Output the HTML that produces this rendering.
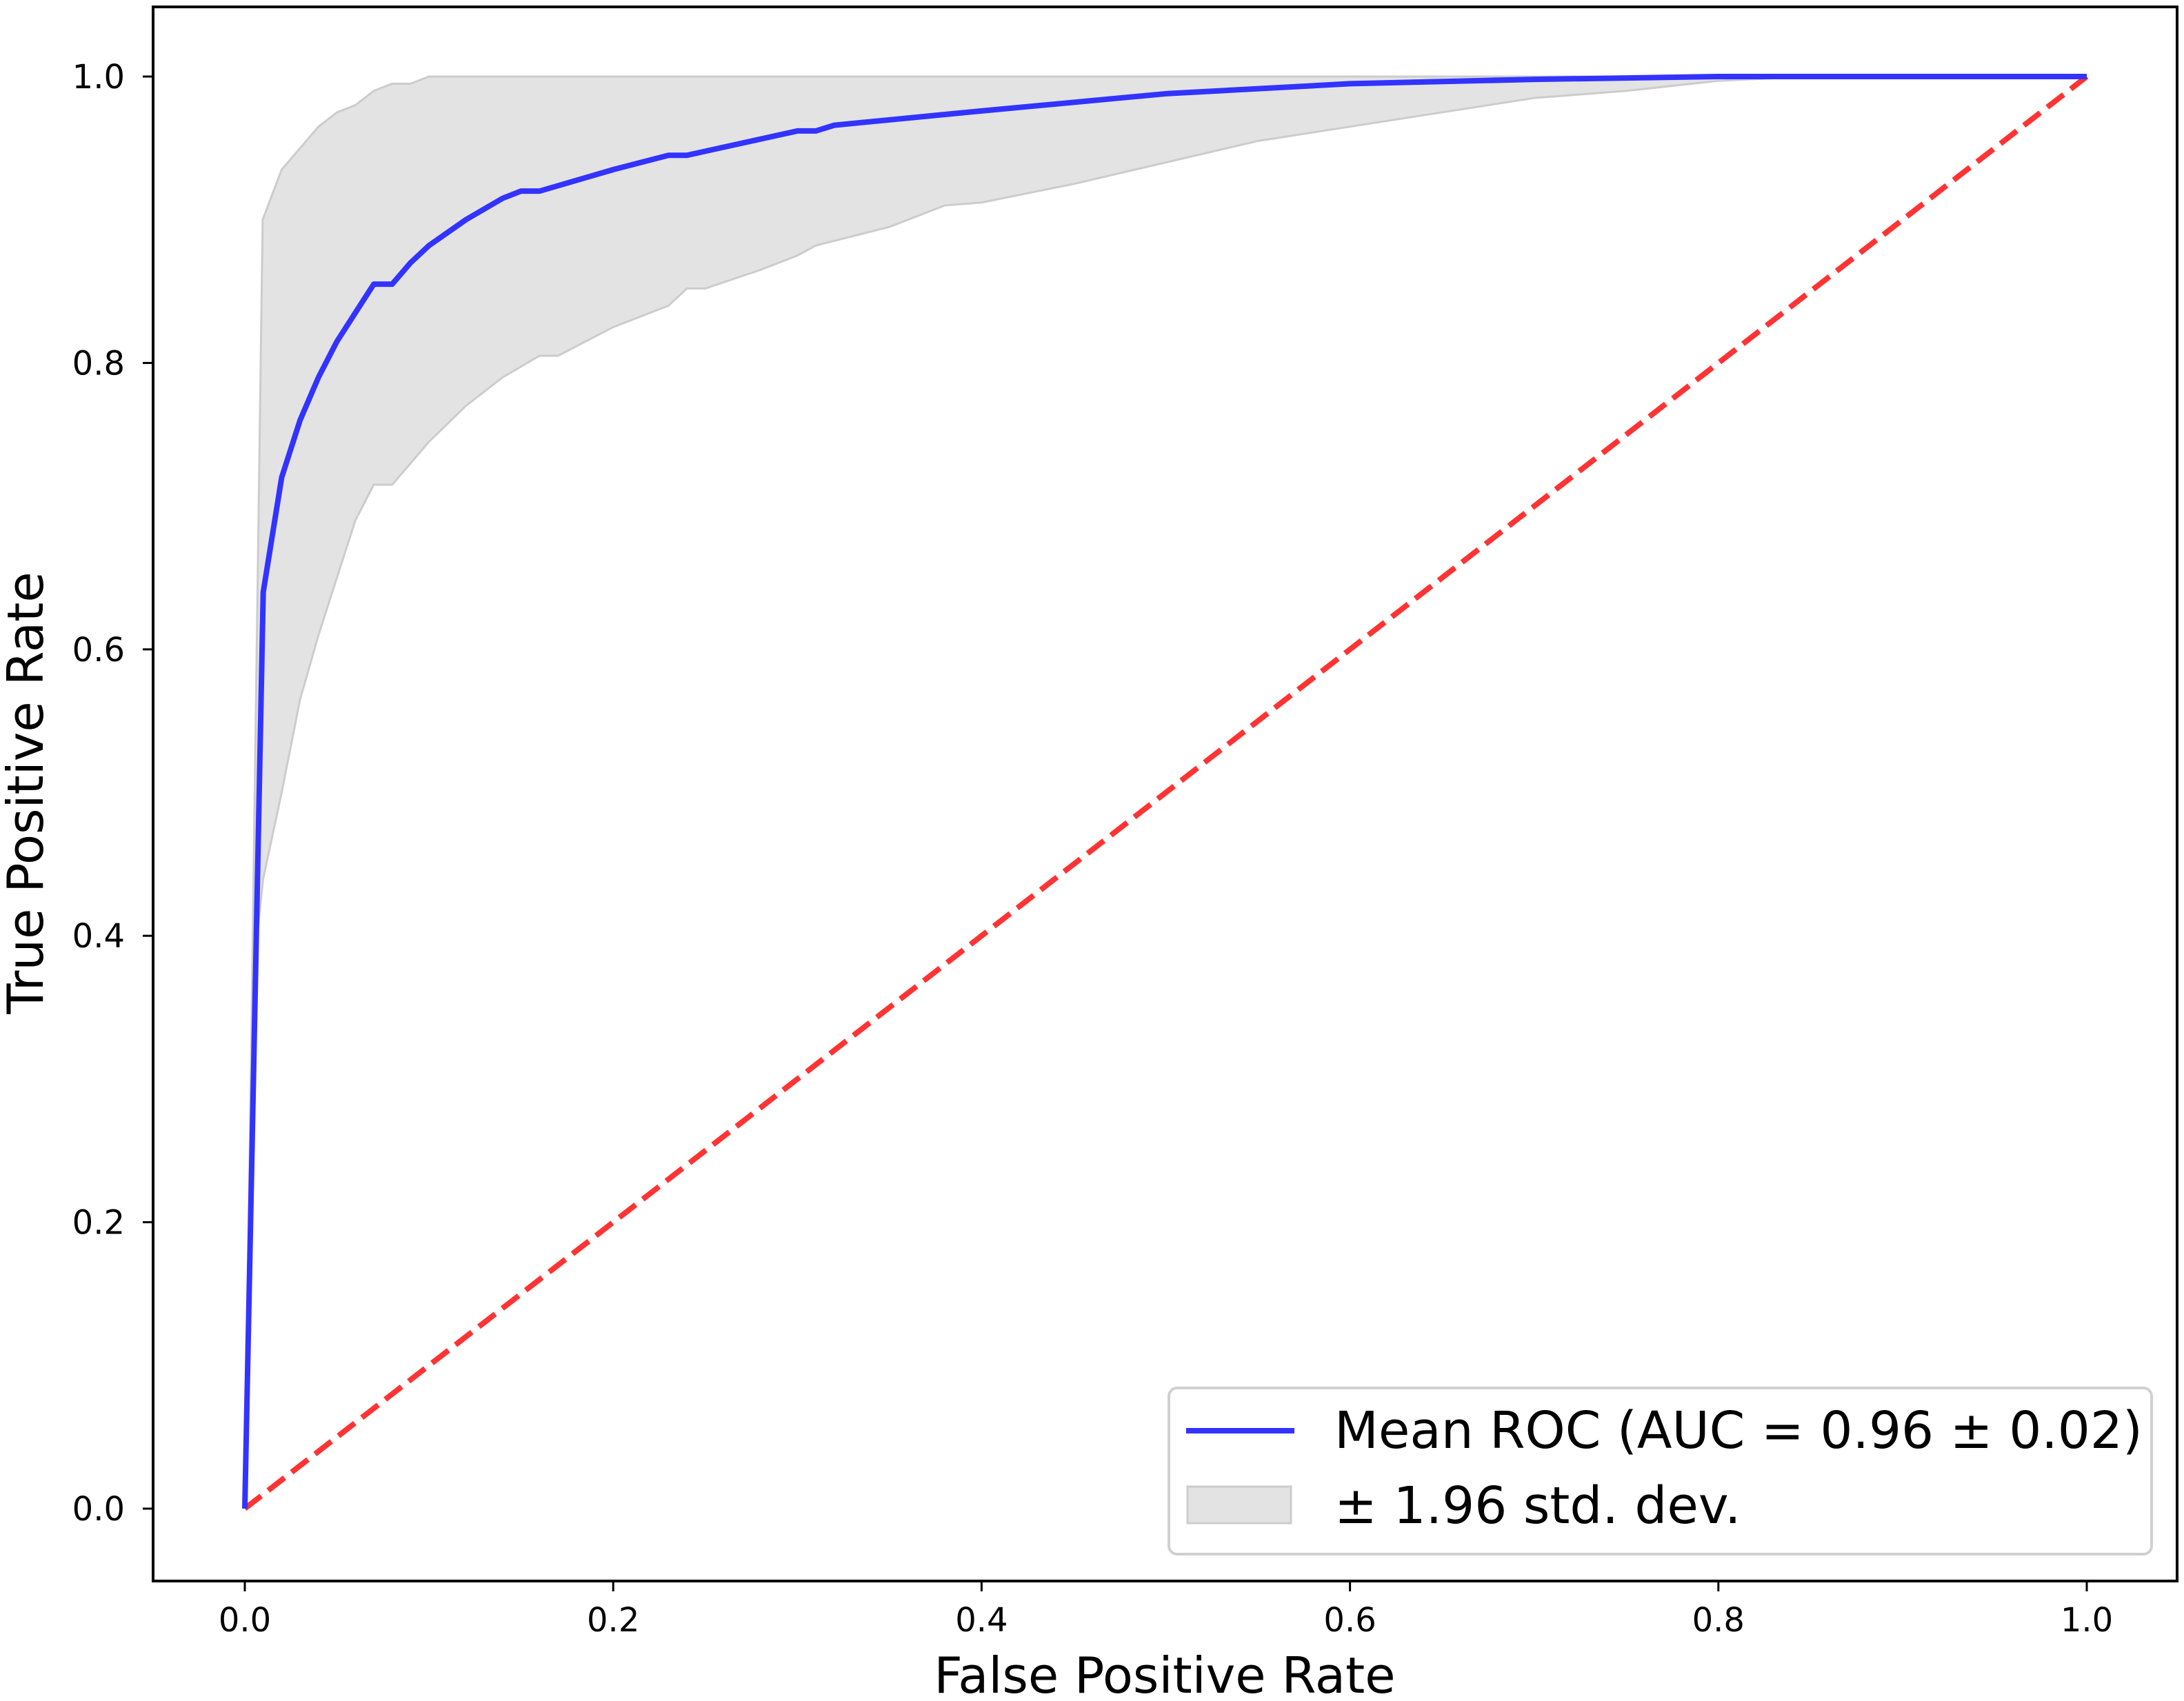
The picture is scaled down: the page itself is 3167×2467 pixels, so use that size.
<!DOCTYPE html>
<html><head><meta charset="utf-8"><style>
html,body{margin:0;padding:0;background:#fff;}
svg{display:block;font-family:"DejaVu Sans","Liberation Sans",sans-serif;}
</style></head><body>
<svg id="chart" width="3167" height="2467" viewBox="0 0 3167 2467" xmlns="http://www.w3.org/2000/svg">
<rect x="0" y="0" width="3167" height="2467" fill="#fff"/>
<g id="plot"></g>
<rect x="222" y="10" width="2935" height="2283" fill="none" stroke="#000" stroke-width="4"/>
<g id="axes"></g>
<text x="1689" y="2455" font-size="72" text-anchor="middle">False Positive Rate</text>
<text transform="translate(62,1150) rotate(-90)" font-size="72" text-anchor="middle">True Positive Rate</text>
<g>
<rect x="1695" y="2013" width="1425" height="241" rx="12" fill="#fff" fill-opacity="0.85" stroke="#d0d0d0" stroke-width="4"/>
<line x1="1720" y1="2075" x2="1877" y2="2075" stroke="#3333ff" stroke-width="8"/>
<text x="1935" y="2100" font-size="74">Mean ROC (AUC = 0.96 ± 0.02)</text>
<rect x="1722" y="2156" width="150" height="53" fill="#e3e3e3" stroke="#cccccc" stroke-width="3"/>
<text x="1935" y="2209" font-size="74">± 1.96 std. dev.</text>
</g>
</svg>
<script>
const meanFpr=[0,0.01,0.02,0.03,0.04,0.05,0.06,0.07,0.08,0.09,0.10,0.12,0.14,0.15,0.16,0.20,0.23,0.24,0.30,0.31,0.32,0.40,0.50,0.60,0.70,0.80,1.0];
const meanTpr=[0,0.64,0.72,0.76,0.79,0.815,0.835,0.855,0.855,0.87,0.882,0.90,0.915,0.92,0.92,0.935,0.945,0.945,0.962,0.962,0.966,0.976,0.988,0.995,0.998,1.0,1.0];
const upperFpr=[0,0.0097,0.02,0.03,0.04,0.05,0.06,0.07,0.08,0.09,0.10,1.0];
const upperTpr=[0,0.90,0.935,0.95,0.965,0.975,0.98,0.99,0.995,0.995,1.0,1.0];
const lowerFpr=[0,0.005,0.01,0.02,0.03,0.04,0.05,0.06,0.07,0.08,0.10,0.12,0.14,0.16,0.17,0.20,0.23,0.24,0.25,0.28,0.30,0.31,0.35,0.38,0.40,0.45,0.50,0.55,0.60,0.65,0.70,0.75,0.80,0.85,1.0];
const lowerTpr=[0,0.38,0.44,0.50,0.565,0.61,0.65,0.69,0.715,0.715,0.745,0.77,0.79,0.805,0.805,0.825,0.84,0.852,0.852,0.865,0.875,0.882,0.895,0.91,0.912,0.925,0.94,0.955,0.965,0.975,0.985,0.99,0.997,1.0,1.0];
const chanceX=[0,1];
const chanceY=[0,1];
const xTicks=[0,0.2,0.4,0.6,0.8,1.0];
const yTicks=[0,0.2,0.4,0.6,0.8,1.0];
const xTickLabels=["0.0","0.2","0.4","0.6","0.8","1.0"];
const yTickLabels=["0.0","0.2","0.4","0.6","0.8","1.0"];

const NS="http://www.w3.org/2000/svg";
function sx(v){return 355+v*2671;}
function sy(v){return 2188-v*2077;}
const plot=document.getElementById('plot');
const axes=document.getElementById('axes');
function mk(tag,attrs,parent){const e=document.createElementNS(NS,tag);for(const k in attrs)e.setAttribute(k,attrs[k]);parent.appendChild(e);return e;}

let d='M'+upperFpr.map((x,i)=>sx(x)+','+sy(upperTpr[i])).join(' L');
for(let i=lowerFpr.length-1;i>=0;i--)d+=' L'+sx(lowerFpr[i])+','+sy(lowerTpr[i]);
d+=' Z';
const band=mk('path',{d:d,fill:'#e3e3e3',stroke:'#cccccc','stroke-width':3},plot);



const chance=mk('polyline',{points:chanceX.map((x,i)=>sx(x)+','+sy(chanceY[i])).join(' '),fill:'none',stroke:'#ff3333','stroke-width':8,'stroke-dasharray':'30 13'},plot);



const mean=mk('polyline',{points:meanFpr.map((x,i)=>sx(x)+','+sy(meanTpr[i])).join(' '),fill:'none',stroke:'#3333ff','stroke-width':8,'stroke-linejoin':'round'},plot);



xTicks.forEach((v,i)=>{
  const t=mk('line',{x1:sx(v),x2:sx(v),y1:2293,y2:2308,stroke:'#000','stroke-width':3},axes);
  
  
  const l=mk('text',{x:sx(v),y:2366,'font-size':48,'text-anchor':'middle'},axes);
  l.textContent=xTickLabels[i];
  
  
});
yTicks.forEach((v,i)=>{
  const t=mk('line',{x1:207,x2:222,y1:sy(v),y2:sy(v),stroke:'#000','stroke-width':3},axes);
  
  
  const l=mk('text',{x:181,y:sy(v)+17,'font-size':48,'text-anchor':'end'},axes);
  l.textContent=yTickLabels[i];
  
  
});
</script>
</body></html>
